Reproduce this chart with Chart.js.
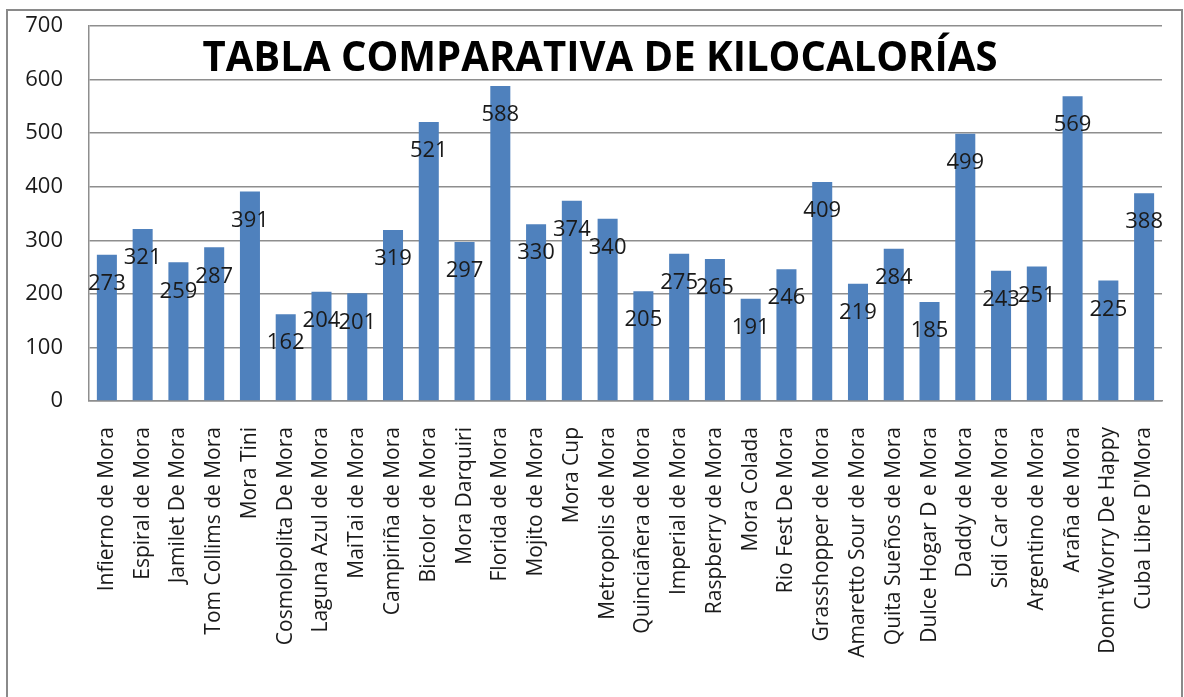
<!DOCTYPE html>
<html>
<head>
<meta charset="utf-8">
<script src="https://cdn.jsdelivr.net/npm/chart.js@4.4.0/dist/chart.umd.min.js"></script>
<style>
  html, body { margin: 0; padding: 0; background: #fff; overflow: hidden; }
  #wrap { position: relative; width: 1184px; height: 697px; }
  #frame { position: absolute; left: 6px; top: 9px; width: 1173px; height: 700px; border: 2px solid #8a8a8a; }
  canvas { position: absolute; left: 0; top: 0; }
</style>
</head>
<body>
<div id="wrap">
  <div id="frame"></div>
  <canvas id="graph" width="1184" height="697"></canvas>
</div>
<script>
const titulo = "TABLA COMPARATIVA DE KILOCALORÍAS";

const tragos = [
  "Infierno de Mora", "Espiral de Mora", "Jamilet De Mora", "Tom Collims de Mora",
  "Mora Tini", "Cosmolpolita De Mora", "Laguna Azul de Mora", "MaiTai de Mora",
  "Campiriña de Mora", "Bicolor de Mora", "Mora Darquiri", "Florida de Mora",
  "Mojito de Mora", "Mora Cup", "Metropolis de Mora", "Quinciañera de Mora",
  "Imperial de Mora", "Raspberry de Mora", "Mora Colada", "Rio Fest De Mora",
  "Grasshopper de Mora", "Amaretto Sour de Mora", "Quita Sueños de Mora",
  "Dulce Hogar D e Mora", "Daddy de Mora", "Sidi Car de Mora", "Argentino de Mora",
  "Araña de Mora", "Donn'tWorry De Happy", "Cuba Libre D'Mora"
];

const kilocalorias = [
  273, 321, 259, 287, 391, 162, 204, 201, 319, 521,
  297, 588, 330, 374, 340, 205, 275, 265, 191, 246,
  409, 219, 284, 185, 499, 243, 251, 569, 225, 388
];

const yMin = 0;
const yMax = 700;
const yStep = 100;

const fuente = "'Open Sans', 'DejaVu Sans', sans-serif";

// titulo dentro del area del grafico
const tituloPlugin = {
  id: "tituloPlugin",
  afterDraw(chart) {
    const ctx = chart.ctx;
    ctx.save();
    ctx.font = "bold 42px " + fuente;
    ctx.fillStyle = "#000";
    ctx.textAlign = "center";
    ctx.textBaseline = "middle";
    const w = ctx.measureText(titulo).width;
    const escala = 795 / w;
    ctx.translate(600, 59);
    ctx.scale(escala, 1);
    ctx.fillText(titulo, 0, 0);
    ctx.restore();
  }
};

// etiquetas de valor sobre cada barra
const etiquetasPlugin = {
  id: "etiquetasPlugin",
  afterDatasetsDraw(chart) {
    const ctx = chart.ctx;
    const meta = chart.getDatasetMeta(0);
    ctx.save();
    ctx.font = "22px " + fuente;
    ctx.fillStyle = "#1a1a1a";
    ctx.textAlign = "center";
    ctx.textBaseline = "middle";
    meta.data.forEach((bar, i) => {
      ctx.fillText(String(kilocalorias[i]), bar.x, bar.y + 29);
    });
    ctx.restore();
  }
};

const graph = document.getElementById("graph");

new Chart(graph, {
  type: "bar",
  data: {
    labels: tragos,
    datasets: [{
      label: "Kilocalorías",
      data: kilocalorias,
      backgroundColor: "#4F81BD",
      borderWidth: 0,
      barPercentage: 0.56,
      categoryPercentage: 1
    }]
  },
  options: {
    responsive: false,
    animation: false,
    layout: { padding: { left: 0, top: 26, right: 22, bottom: 0 } },
    plugins: {
      legend: { display: false },
      tooltip: { enabled: false },
      title: { display: false }
    },
    scales: {
      x: {
        grid: { display: false, drawTicks: false },
        border: { display: true, color: "#8e8e8e", width: 1.5 },
        ticks: {
          minRotation: 90,
          maxRotation: 90,
          autoSkip: false,
          padding: 26,
          color: "#1a1a1a",
          font: { family: fuente, size: 21 }
        },
        afterFit(scale) {
          scale.height = 296;
          scale.paddingLeft = 0;
          scale.paddingRight = 0;
        }
      },
      y: {
        min: yMin,
        max: yMax,
        grid: { color: "#8e8e8e", lineWidth: 1.5, drawTicks: false },
        border: { display: true, color: "#8e8e8e", width: 1.5 },
        ticks: {
          stepSize: yStep,
          padding: 26,
          color: "#1a1a1a",
          font: { family: fuente, size: 22 }
        },
        afterFit(scale) {
          scale.width = 89;
          scale.paddingTop = 0;
          scale.paddingBottom = 0;
        }
      }
    }
  },
  plugins: [etiquetasPlugin, tituloPlugin]
});
</script>
</body>
</html>
